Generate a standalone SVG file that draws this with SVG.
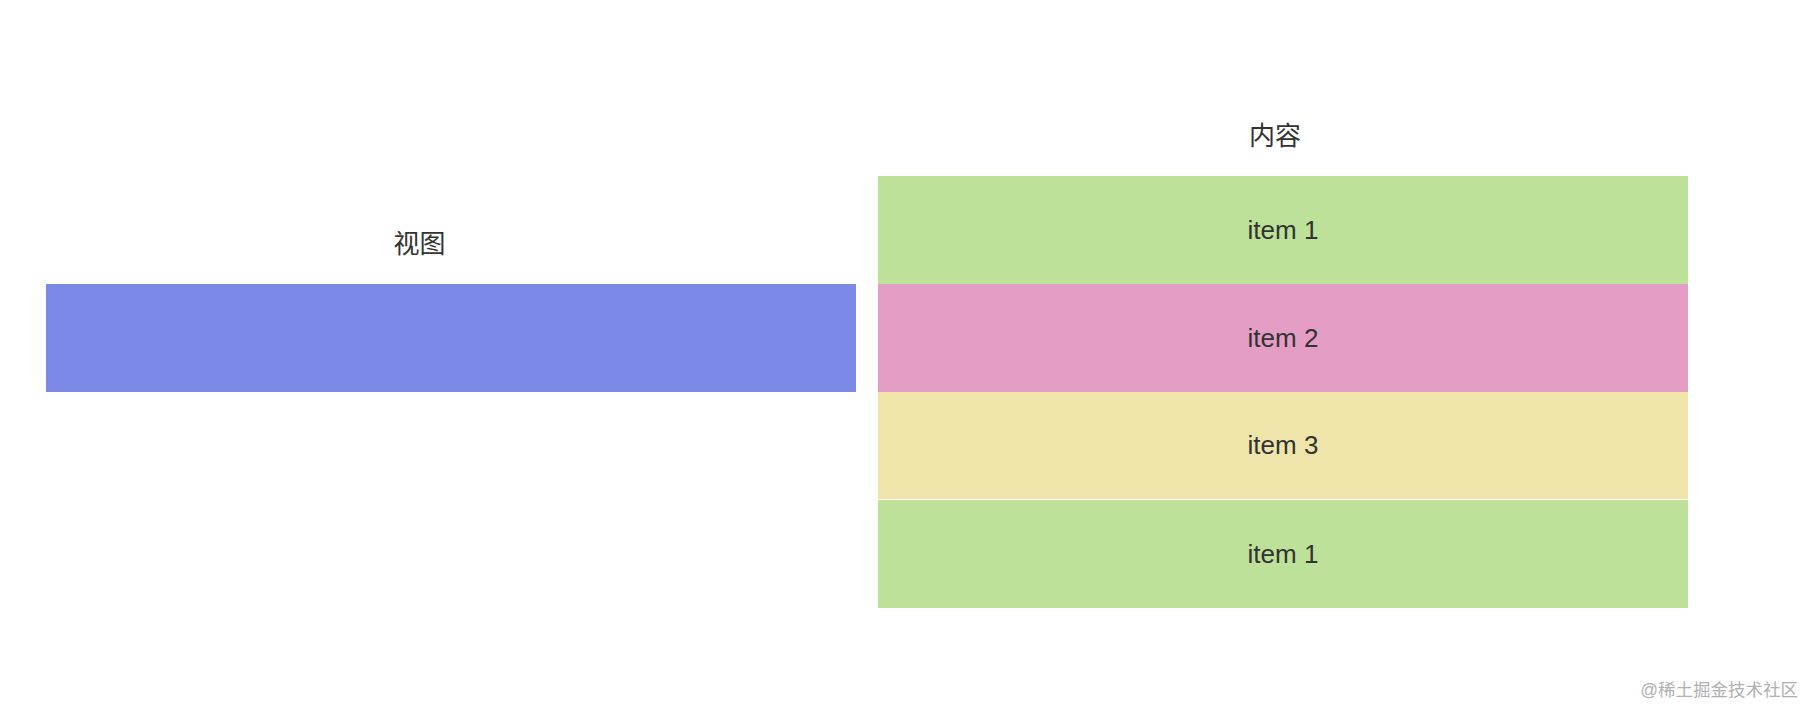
<svg xmlns="http://www.w3.org/2000/svg" width="1806" height="706" viewBox="0 0 1806 706">
<style>
.cjk{font-family:"Liberation Sans","Noto Sans CJK SC",sans-serif;font-size:26px;fill:#333;text-anchor:middle}
.item{font-family:"Liberation Sans",Arial,sans-serif;font-size:26px;fill:#333;text-anchor:middle}
.wm{font-family:"Liberation Sans","Noto Sans CJK SC",sans-serif;font-size:17.5px;fill:#b0b0b0;text-anchor:end}
</style>
<rect width="1806" height="706" fill="#ffffff"/>
<g id="view">
<text class="cjk" x="419.5" y="253">视图</text>
<rect x="46" y="284" width="810" height="108" fill="#7c89e6"/>
</g>
<g id="content">
<text class="cjk" x="1275" y="145">内容</text>
</g>
<g id="item1">
<rect x="878" y="176" width="810" height="108" fill="#bde198"/>
<text class="item" x="1283" y="239">item 1</text>
</g>
<g id="item2">
<rect x="878" y="284" width="810" height="108" fill="#e49dc5"/>
<text class="item" x="1283" y="347">item 2</text>
</g>
<g id="item3">
<rect x="878" y="392" width="810" height="107" fill="#efe5aa"/>
<text class="item" x="1283" y="454">item 3</text>
</g>
<g id="item1b">
<rect x="878" y="500" width="810" height="108" fill="#bde198"/>
<text class="item" x="1283" y="563">item 1</text>
</g>
<g id="connectors"></g>
<text class="wm" x="1798" y="696">@稀土掘金技术社区</text>
</svg>
